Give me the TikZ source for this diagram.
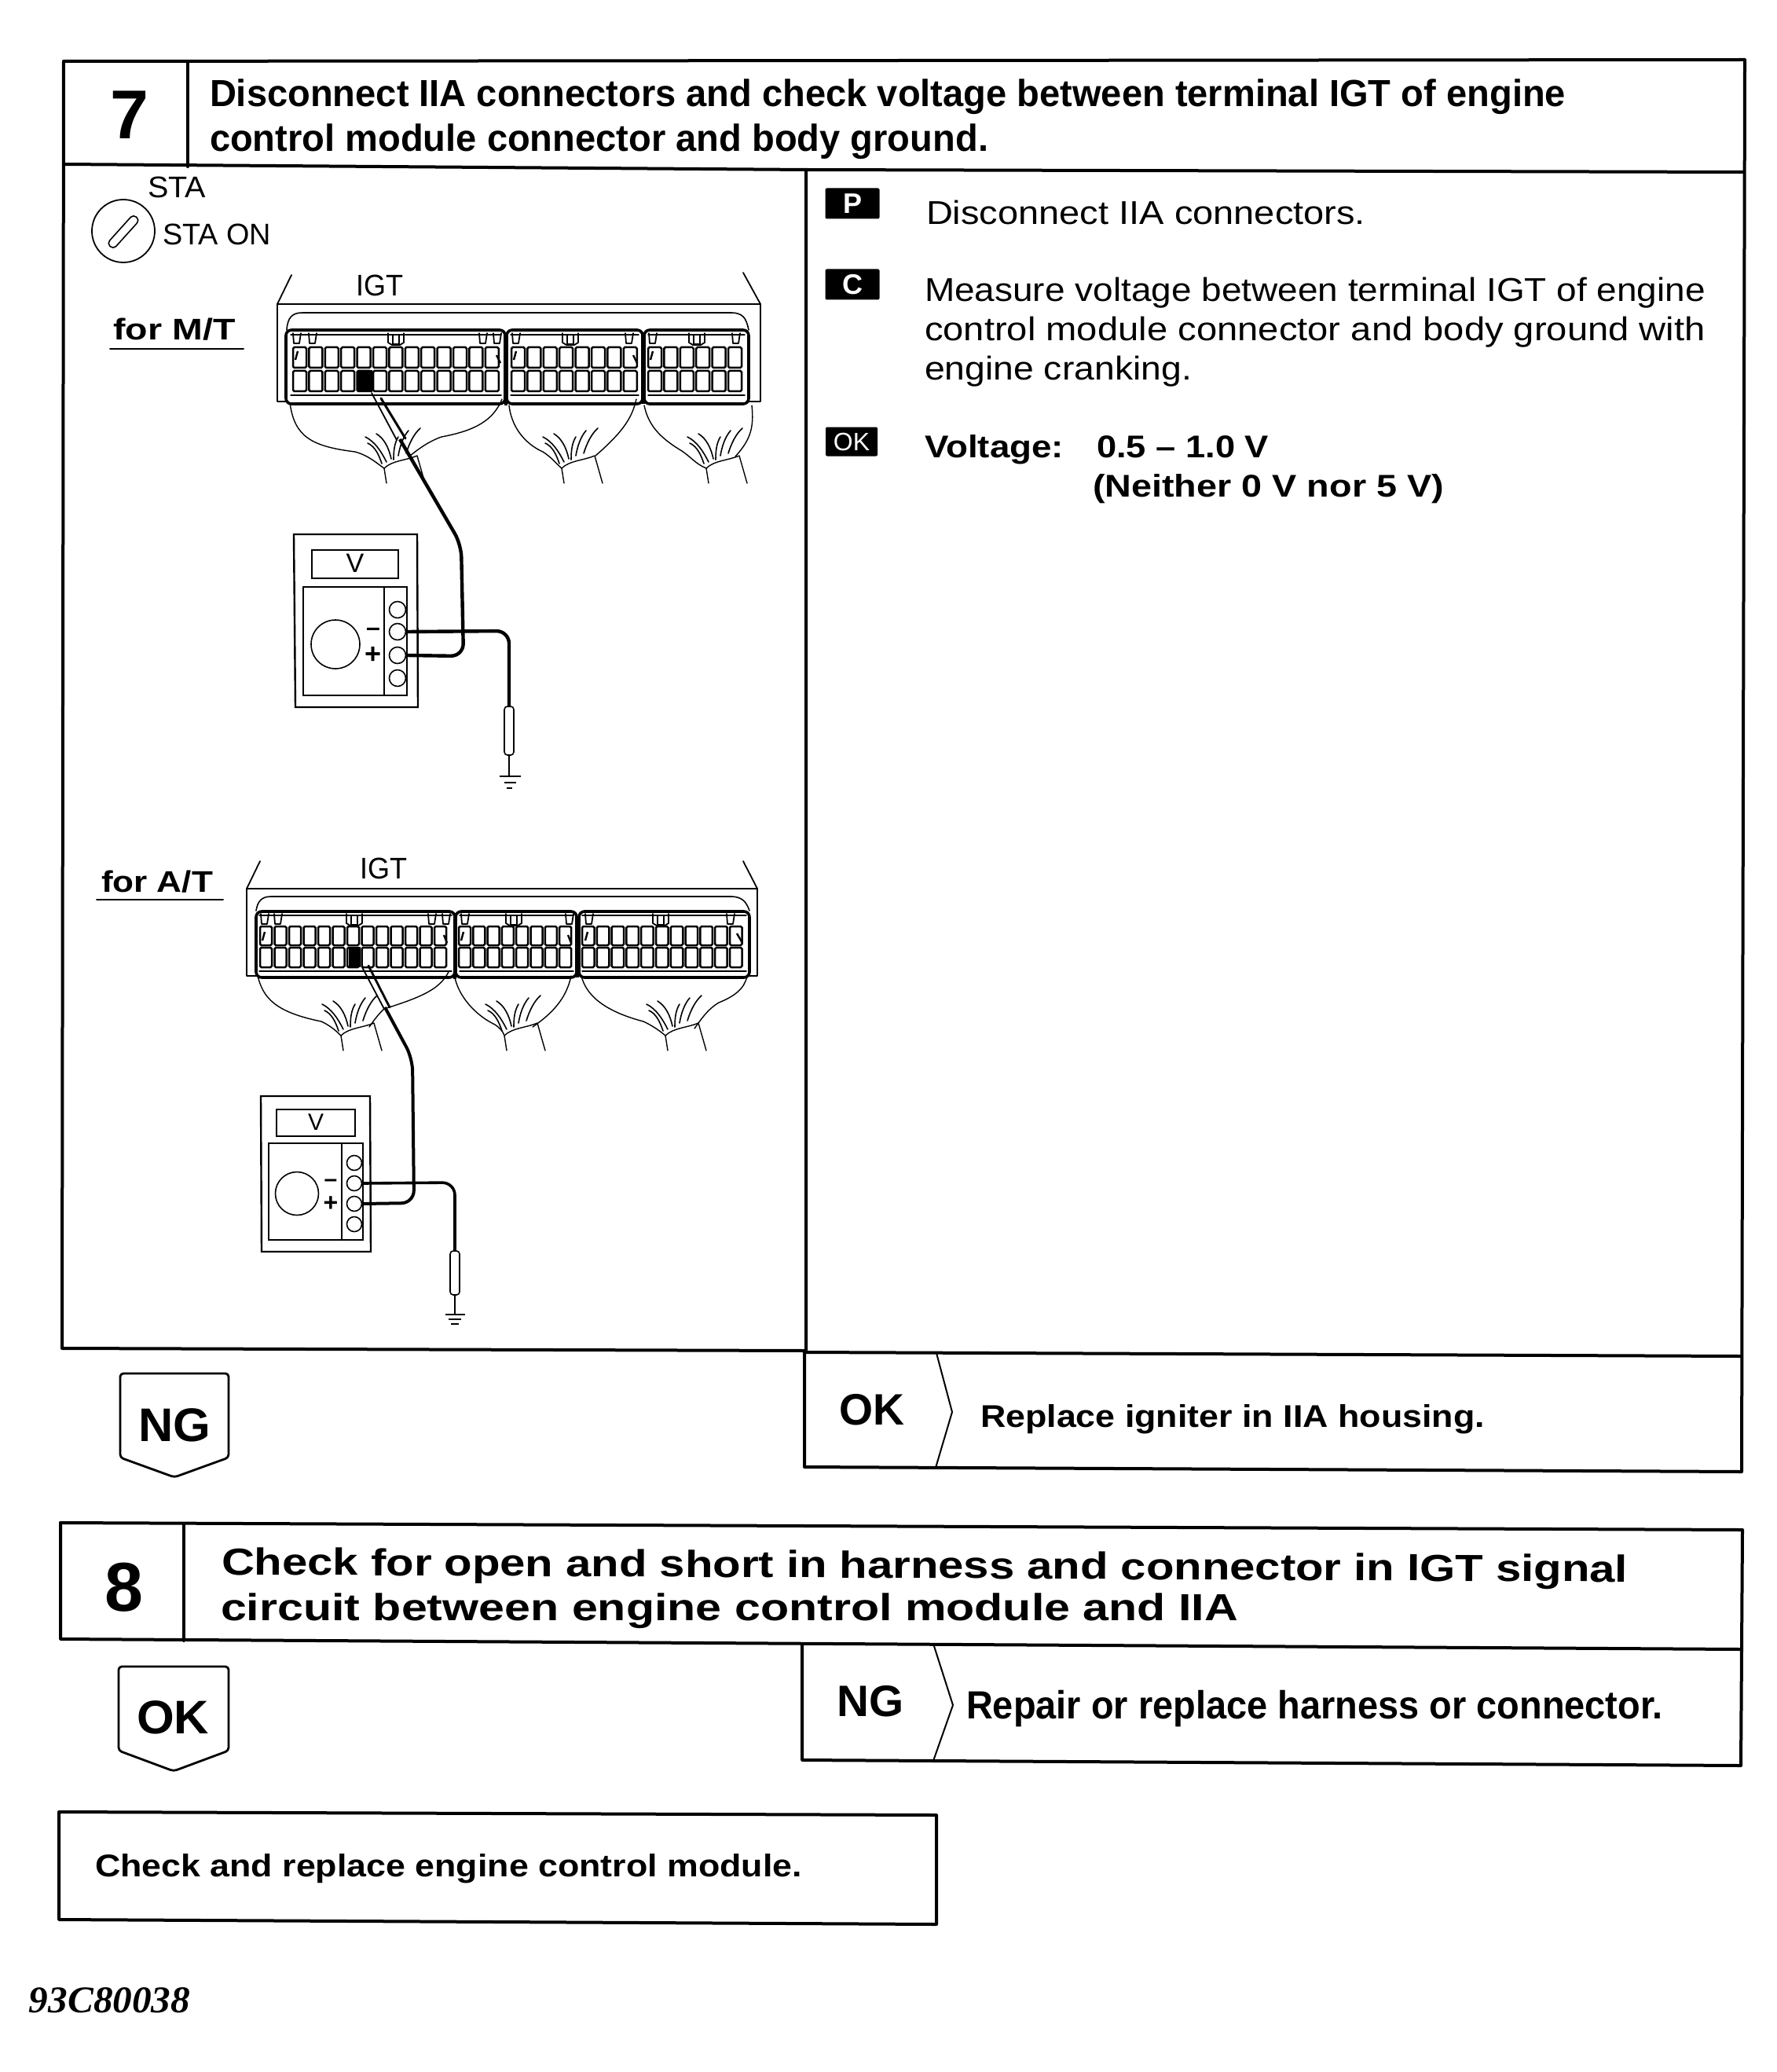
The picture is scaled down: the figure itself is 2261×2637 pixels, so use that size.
\documentclass[tikz,border=0pt]{standalone}
\usepackage{fontspec}
\usepackage{graphicx}
\setmainfont{Liberation Sans}
\newfontfamily\serifbi{Liberation Serif}[BoldItalicFont={* Bold Italic}]
\newlength{\pxu}\setlength{\pxu}{0.5pt}
\newcommand{\fitw}[2]{\resizebox{#1\pxu}{\height}{#2}}
\newcommand{\fsz}[1]{\fontsize{#1}{#1}\selectfont}
\newcommand{\cellrow}[6]{\foreach \i in {1,...,#2}{\draw[cellb] ({#1+(\i-1)*#3},#5) rectangle ({#1+(\i-1)*#3+#4},#6);}}
\newcommand{\twotabs}[3]{\draw[thin line,line width=.9pt] (#1,#2) -- ++(1,13) -- ++(7,0) -- ++(2,-13);\draw[thin line,line width=.9pt] (#3,#2) -- ++(1,13) -- ++(7,0) -- ++(2,-13);}
\newcommand{\midtab}[2]{\draw[thin line,line width=.9pt] (#1,#2) -- ++(0,12) -- ++(5,3) -- ++(10,0) -- ++(5,-3) -- ++(0,-12);\draw[thin line,line width=.8pt] (#1+6,#2+2) rectangle ++(8,12);}
\tikzset{
  frame/.style={line width=2pt,line cap=round,line join=round},
  thin line/.style={line width=.7pt,line cap=round,line join=round},
  cellb/.style={line width=1.25pt,rounded corners=.8pt},
  block/.style={line width=1.8pt,rounded corners=3.5pt},
  wire/.style={line width=2.2pt,rounded corners=8pt,line join=round},
  term/.style={circle,draw,line width=.8pt,inner sep=0pt,minimum size=10.5pt},
  termb/.style={circle,draw,line width=.8pt,inner sep=0pt,minimum size=9.5pt},
  txt/.style={anchor=base west,inner sep=0pt,outer sep=0pt},
  ctxt/.style={anchor=base,inner sep=0pt,outer sep=0pt},
  harness/.pic={
    \draw[thin line] (0,0) -- (3,19);
    \draw[thin line] (0,0) .. controls (10,-10) and (28,-10) .. (42,-16) -- (52,19);
    \draw[thin line,line width=.8pt] (-24,-40) .. controls (-12,-34) and (-4,-22) .. (3,-8);
    \draw[thin line,line width=.8pt] (-21,-32) .. controls (-12,-28) and (-7,-18) .. (-3,-6);
    \draw[thin line,line width=.8pt] (-10,-44) .. controls (0,-38) and (6,-26) .. (9,-12);
    \draw[thin line,line width=.8pt] (18,-40) .. controls (13,-32) and (12,-22) .. (12,-11);
    \draw[thin line,line width=.8pt] (31,-48) .. controls (24,-40) and (20,-28) .. (18,-16);
    \draw[thin line,line width=.8pt] (46,-51) .. controls (38,-44) and (32,-32) .. (28,-19);
  }
}
\begin{document}
\begin{tikzpicture}[x=0.5pt,y=-0.5pt]
\useasboundingbox (0,0) rectangle (2261,2637);
% ---------- Step 7 frame
\draw[frame] (81,78) -- (2221,76) -- (2217,1873) -- (1024,1867) -- (1024,1721);
\draw[frame] (81,78) -- (79,1716) -- (1026,1719);
\draw[frame] (81,209) -- (1026,216) -- (2220,219);
\draw[frame] (239,78) -- (239,212);
\draw[frame] (1026,216) -- (1026,1721) -- (2217,1726);
\draw[thin line,line width=1pt] (1192,1722) -- (1212,1797) -- (1191,1868);
\node[ctxt] (num7) at (165,177) {\fsz{44}\bfseries 7};
\node[txt] (h7a) at (267,136) {\fsz{24}\bfseries\fitw{1726}{Disconnect IIA connectors and check voltage between terminal IGT of engine}};
\node[txt] (h7b) at (267,193) {\fsz{24}\bfseries\fitw{991}{control module connector and body ground.}};
% ---------- Left panel labels
\node[ctxt] (sta) at (225,252) {\fsz{19}\fitw{74}{STA}};
\node[circle,draw,line width=.9pt,minimum size=40pt,inner sep=0pt] (keyc) at (157,294) {};
\node[draw,line width=.8pt,rounded corners=2.5pt,rotate=48,minimum width=25pt,minimum height=5.5pt,inner sep=0pt] (keyslot) at (157,295) {};
\node[txt] (staon) at (207,312) {\fsz{19}\fitw{138}{STA ON}};
\node[ctxt] (igt1) at (483,377) {\fsz{19}\fitw{60}{IGT}};
\node[ctxt] (mt) at (222,433) {\fsz{19}\bfseries\fitw{155}{for M/T}};
\draw[thin line,line width=1pt] (140,444) -- (310,444);
\node[ctxt] (igt2) at (488,1118) {\fsz{19}\fitw{60}{IGT}};
\node[ctxt] (at) at (200,1135) {\fsz{19}\bfseries\fitw{142}{for A/T}};
\draw[thin line,line width=1pt] (123,1145) -- (284,1145);
% ---------- M/T connector
\draw[thin line,line width=.9pt] (371,350) -- (353,387) -- (968,387) -- (946,347);
\draw[thin line,line width=.9pt] (353,387) -- (353,511) -- (968,511) -- (968,387);
\draw[thin line,line width=.8pt] (365,420) .. controls (366,404) and (372,398) .. (385,398) -- (930,398) .. controls (946,398) and (950,405) .. (953,420);
\draw[block,fill=white] (364,420) rectangle (643,514);
\draw[block,fill=white] (645,420) rectangle (818,514);
\draw[block,fill=white] (820,420) rectangle (953,514);
\draw[thin line] (370,503) -- (638,503) (650,503) -- (813,503) (825,503) -- (948,503);
\draw[thin line] (370,426) -- (638,426) (650,426) -- (813,426) (825,426) -- (948,426);
\cellrow{373}{13}{20.4}{17}{442}{468}
\cellrow{373}{13}{20.4}{17}{472}{498}
\cellrow{651}{8}{20.4}{17}{442}{468}
\cellrow{651}{8}{20.4}{17}{472}{498}
\cellrow{825}{6}{20.4}{17}{442}{468}
\cellrow{825}{6}{20.4}{17}{472}{498}
\node[fill=black,inner sep=0pt,minimum width=9.5pt,minimum height=14pt] (mtcell) at (464,485) {};
\twotabs{373}{424}{393}\twotabs{610}{424}{628}\midtab{494}{424}
\twotabs{652}{424}{796}\midtab{716}{424}
\twotabs{826}{424}{932}\midtab{877}{424}
\draw[line width=1.2pt] (379,447) -- (376,458) (632,452) -- (637,462) (657,447) -- (654,458) (806,452) -- (811,462) (831,447) -- (828,458);
\draw[line width=2pt] (644,450) -- (644,516) (819,480) -- (819,514);
\draw[thin line] (369,513) .. controls (375,555) and (395,568) .. (452,575) .. controls (470,580) and (480,590) .. (489,596);
\draw[thin line] (639,508) .. controls (628,535) and (605,548) .. (562,556) .. controls (545,562) and (532,572) .. (522,580);
\draw[thin line] (648,516) .. controls (652,550) and (675,568) .. (691,575) .. controls (702,582) and (708,590) .. (715,596);
\draw[thin line] (810,508) .. controls (805,530) and (795,548) .. (758,580);
\draw[thin line] (820,516) .. controls (826,545) and (845,560) .. (868,574) .. controls (880,582) and (885,590) .. (899,596);
\draw[thin line] (957,516) .. controls (960,545) and (955,560) .. (936,581);
\path (489,596) pic {harness} (715,596) pic {harness} (899,596) pic {harness};
% M/T meter
\draw[line width=1.2pt] (374,680) -- (531,680) -- (532,900) -- (376,900) -- cycle;
\node[draw,line width=1pt,minimum width=55pt,minimum height=18pt,inner sep=0pt] (mtdisp) at (452,718) {};
\node[ctxt] (mtv) at (452,728) {\fsz{17}V};
\draw[line width=.8pt] (386,747) rectangle (518,885);
\draw[line width=.8pt] (489,747) -- (489,885);
\node[circle,draw,line width=.8pt,minimum size=31pt,inner sep=0pt] (mtdial) at (427,820) {};
\node[term] (mtt1) at (506,776) {};
\node[term] (mtneg) at (506,804) {};
\node[term] (mtpos) at (506,834) {};
\node[term] (mtt4) at (506,863) {};
\node (mtminus) at (475,804) {\fsz{16}\bfseries –};
\node (mtplus) at (475,834) {\fsz{18}\bfseries +};
\draw[thin line,line width=.9pt] (473,500) -- (505,560);
\draw[thin line,line width=1.5pt] (485,507) -- (516,558);
\draw[wire] (509,559) -- (587,693) -- (590,835) -- (mtpos.east);
\draw[wire] (mtneg.east) -- (648,803) -- (648,900);
\node[draw,line width=.8pt,rounded corners=2pt,minimum width=6pt,minimum height=31pt,inner sep=0pt] (mtprobe) at (648,930) {};
\draw[line width=1.1pt] (648,961) -- (648,988);
\draw[line width=1pt] (636,988) -- (663,988) (642,996) -- (657,996) (645,1003) -- (652,1003);
% ---------- A/T connector
\draw[thin line,line width=.9pt] (331,1096) -- (314,1131) -- (964,1131) -- (946,1096);
\draw[thin line,line width=.9pt] (314,1131) -- (314,1242) -- (964,1242) -- (964,1131);
\draw[thin line,line width=.8pt] (326,1159) .. controls (328,1146) and (334,1141) .. (345,1141) -- (930,1141) .. controls (945,1141) and (950,1148) .. (954,1159);
\draw[block,fill=white] (326,1160) rectangle (579,1244);
\draw[block,fill=white] (580,1160) rectangle (734,1244);
\draw[block,fill=white] (737,1160) rectangle (954,1244);
\draw[thin line] (330,1236) -- (575,1236) (585,1236) -- (730,1236) (741,1236) -- (950,1236);
\draw[thin line] (330,1165) -- (575,1165) (585,1165) -- (730,1165) (741,1165) -- (950,1165);
\cellrow{331}{13}{18.5}{15}{1179}{1203}
\cellrow{331}{13}{18.5}{15}{1206}{1231}
\cellrow{584}{8}{18.3}{15}{1179}{1203}
\cellrow{584}{8}{18.3}{15}{1206}{1231}
\cellrow{741}{11}{18.8}{15.5}{1179}{1203}
\cellrow{741}{11}{18.8}{15.5}{1206}{1231}
\node[fill=black,inner sep=0pt,minimum width=7.5pt,minimum height=13pt] (atcell) at (451,1218) {};
\twotabs{332}{1163}{349}\twotabs{545}{1163}{563}\midtab{441}{1163}
\twotabs{587}{1163}{720}\midtab{644}{1163}
\twotabs{745}{1163}{925}\midtab{831}{1163}
\draw[line width=1.2pt] (337,1186) -- (334,1197) (565,1190) -- (569,1200) (590,1186) -- (587,1197) (723,1190) -- (727,1200) (748,1186) -- (745,1197) (938,1188) -- (945,1200);
\draw[line width=2.2pt] (579,1162) -- (579,1246) (735,1190) -- (735,1244);
\draw[thin line] (328,1242) .. controls (335,1270) and (350,1288) .. (409,1300) .. controls (420,1305) and (428,1312) .. (434,1318);
\draw[thin line] (571,1237) .. controls (560,1258) and (540,1268) .. (489,1284) .. controls (482,1290) and (475,1300) .. (470,1307);
\draw[thin line] (579,1244) .. controls (584,1268) and (605,1292) .. (630,1304) .. controls (636,1308) and (640,1312) .. (642,1318);
\draw[thin line] (727,1242) .. controls (722,1265) and (710,1285) .. (678,1307);
\draw[thin line] (740,1242) .. controls (745,1262) and (762,1285) .. (819,1300) .. controls (830,1305) and (840,1312) .. (847,1318);
\draw[thin line] (951,1242) .. controls (948,1258) and (935,1268) .. (915,1276) .. controls (900,1285) and (892,1298) .. (884,1309);
\path (434,1318) pic {harness} (642,1318) pic {harness} (847,1318) pic {harness};
% A/T meter
\draw[line width=1.2pt] (332,1395) -- (471,1395) -- (472,1593) -- (333,1593) -- cycle;
\node[draw,line width=1pt,minimum width=50pt,minimum height=17pt,inner sep=0pt] (atdisp) at (402,1429) {};
\node[ctxt] (atv) at (402,1438) {\fsz{15}V};
\draw[line width=.8pt] (342,1455) rectangle (462,1578);
\draw[line width=.8pt] (435,1455) -- (435,1578);
\node[circle,draw,line width=.8pt,minimum size=27.5pt,inner sep=0pt] (atdial) at (378,1519) {};
\node[termb] (att1) at (451,1480) {};
\node[termb] (atneg) at (451,1506) {};
\node[termb] (atpos) at (451,1532) {};
\node[termb] (att4) at (451,1558) {};
\node (atminus) at (421,1506) {\fsz{15}\bfseries –};
\node (atplus) at (421,1532) {\fsz{16}\bfseries +};
\draw[thin line,line width=.9pt] (461,1231) -- (489,1284);
\draw[thin line,line width=1.4pt] (469,1229) -- (496,1282);
\draw[wire,line width=2pt] (490,1282) -- (525,1347) -- (527,1531) -- (atpos.east);
\draw[wire,line width=1.8pt] (atneg.east) -- (579,1505) -- (579,1592);
\node[draw,line width=.8pt,rounded corners=2pt,minimum width=6pt,minimum height=28pt,inner sep=0pt] (atprobe) at (579,1620) {};
\draw[line width=1.1pt] (579,1648) -- (579,1673);
\draw[line width=1pt] (567,1673) -- (592,1673) (571,1679) -- (587,1679) (574,1685) -- (584,1685);
% ---------- Right panel
\node[fill=black,inner sep=0pt,minimum width=34.5pt,minimum height=19.5pt,rounded corners=1pt] (pbox) at (1085,259) {\color{white}\fsz{18}\bfseries P};
\node[fill=black,inner sep=0pt,minimum width=34.5pt,minimum height=19.5pt,rounded corners=1pt] (cbox) at (1085,362) {\color{white}\fsz{18}\bfseries C};
\node[fill=black,inner sep=0pt,minimum width=33pt,minimum height=18.5pt,rounded corners=1pt] (okbox) at (1084,562) {\color{white}\fsz{16}OK};
\node[txt] (t1) at (1179,286) {\fsz{21}\fitw{559}{Disconnect IIA connectors.}};
\node[txt] (t2) at (1177,384) {\fsz{21}\fitw{994}{Measure voltage between terminal IGT of engine}};
\node[txt] (t3) at (1177,434) {\fsz{21}\fitw{994}{control module connector and body ground with}};
\node[txt] (t4) at (1177,484) {\fsz{21}\fitw{340}{engine cranking.}};
\node[txt] (t5) at (1177,582) {\fsz{20}\bfseries\fitw{177}{Voltage:}};
\node[txt] (t6) at (1396,582) {\fsz{20}\bfseries\fitw{219}{0.5 – 1.0 V}};
\node[txt] (t7) at (1391,632) {\fsz{20}\bfseries\fitw{447}{(Neither 0 V nor 5 V)}};
% ---------- NG / OK shapes
\draw[frame,line width=1.4pt,rounded corners=2pt] (153,1748) -- (291,1748) -- (291,1855) -- (222,1880) -- (153,1855) -- cycle;
\node[ctxt] (ng1) at (222,1834) {\fsz{30}\bfseries\fitw{92}{NG}};
\node[ctxt] (ok1) at (1110,1813) {\fsz{28}\bfseries\fitw{83}{OK}};
\node[txt] (r1) at (1248,1816) {\fsz{20}\bfseries\fitw{642}{Replace igniter in IIA housing.}};
% ---------- Step 8
\draw[frame] (77,1938) -- (2218,1947) -- (2216,2247) -- (1021,2240) -- (1021,2092);
\draw[frame] (77,1938) -- (77,2086) -- (2216,2099);
\draw[frame] (234,1940) -- (234,2088);
\draw[thin line,line width=1pt] (1189,2095) -- (1213,2170) -- (1188,2241);
\node[ctxt] (num8) at (158,2050) {\fsz{44}\bfseries 8};
\node[txt,rotate=-.3] (h8a) at (282,2004) {\fsz{24}\bfseries\fitw{1790}{Check for open and short in harness and connector in IGT signal}};
\node[txt] (h8b) at (281,2062) {\fsz{24}\bfseries\fitw{1295}{circuit between engine control module and IIA}};
\draw[frame,line width=1.4pt,rounded corners=2pt] (151,2121) -- (291,2121) -- (291,2228) -- (221,2254) -- (151,2228) -- cycle;
\node[ctxt] (ok2) at (220,2206) {\fsz{30}\bfseries\fitw{92}{OK}};
\node[ctxt] (ng2) at (1108,2184) {\fsz{28}\bfseries\fitw{85}{NG}};
\node[txt] (r2) at (1230,2187) {\fsz{25}\bfseries\fitw{887}{Repair or replace harness or connector.}};
% ---------- Final box
\draw[frame] (75,2306) -- (1192,2310) -- (1192,2449) -- (75,2443) -- cycle;
\node[txt] (fin) at (121,2388) {\fsz{20}\bfseries\fitw{900}{Check and replace engine control module.}};
\node[txt] (code) at (37,2561) {\serifbi\fsz{24}\bfseries\itshape\fitw{205}{93C80038}};
\end{tikzpicture}
\end{document}
